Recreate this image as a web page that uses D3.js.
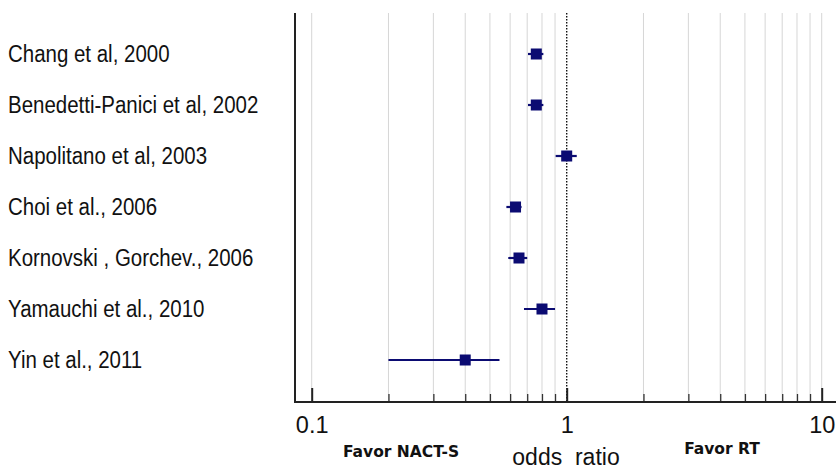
<!DOCTYPE html>
<html>
<head>
<meta charset="utf-8">
<script src="https://cdn.jsdelivr.net/npm/d3@7"></script>
<style>
  body { margin: 0; background: #fff; }
  svg { display: block; }
</style>
</head>
<body>
<div id="chart"></div>
<script>
// study names, top to bottom
var studies = ['Chang et al, 2000', 'Benedetti-Panici et al, 2002', 'Napolitano et al, 2003',
  'Choi et al., 2006', 'Kornovski , Gorchev., 2006', 'Yamauchi et al., 2010', 'Yin et al., 2011']
// odds ratio and 95% CI
var oddsRatio = [0.76, 0.76, 1.0, 0.63, 0.65, 0.80, 0.40]
var ciLow = [0.705, 0.705, 0.905, 0.58, 0.59, 0.68, 0.20]
var ciHigh = [0.81, 0.81, 1.095, 0.665, 0.70, 0.90, 0.545]

var majorTicks = [0.1, 1, 10]
var minorTicks = [0.2, 0.3, 0.4, 0.5, 0.6, 0.7, 0.8, 0.9, 2, 3, 4, 5, 6, 7, 8, 9]

var width = 836, height = 471
var axisY = 402, topY = 13, frameX = 295
var navy = '#0b0b72'

var svg = d3.select('#chart').append('svg')
  .attr('width', width)
  .attr('height', height)

var x = d3.scaleLog()
  .domain([0.1, 10])
  .range([311.7, 821.7])

var y = d3.scalePoint()
  .domain(studies)
  .range([54, 360])

// light grid lines
var grid = majorTicks.filter(function(d){ return d != 1 }).concat(minorTicks)
svg.append('g').selectAll('line')
  .data(grid)
  .enter().append('line')
    .attr('x1', function(d){ return x(d) })
    .attr('x2', function(d){ return x(d) })
    .attr('y1', topY)
    .attr('y2', axisY)
    .attr('stroke', '#d6d6d6')
    .attr('stroke-width', 1)

// dotted line of no effect
svg.append('line')
  .attr('x1', x(1)).attr('x2', x(1))
  .attr('y1', topY).attr('y2', axisY)
  .attr('stroke', '#111')
  .attr('stroke-width', 1.4)
  .attr('stroke-dasharray', '1.5,1.5')

// minor ticks
var minorAxis = d3.axisBottom(x)
  .tickValues(minorTicks)
  .tickSize(-8)
  .tickSizeOuter(0)
  .tickFormat('')
svg.append('g')
  .attr('transform', 'translate(0,' + axisY + ')')
  .call(minorAxis)
  .call(function(g){ g.select('.domain').remove() })
  .selectAll('line').attr('stroke', '#333').attr('stroke-width', 1.3)

// major ticks and labels
var majorAxis = d3.axisBottom(x)
  .tickValues(majorTicks)
  .tickSize(-14)
  .tickSizeOuter(0)
  .tickFormat(function(d){ return String(d) })
var gMajor = svg.append('g')
  .attr('transform', 'translate(0,' + axisY + ')')
  .call(majorAxis)
gMajor.select('.domain').remove()
gMajor.selectAll('line').attr('stroke', '#222').attr('stroke-width', 2)
gMajor.selectAll('text')
  .attr('y', 31)
  .attr('dy', null)
  .attr('fill', '#111')
  .style('font-family', 'Liberation Sans, Arial, sans-serif')
  .style('font-size', '23.5px')

// frame: left side and bottom axis line
svg.append('path')
  .attr('d', 'M' + frameX + ',' + topY + 'V' + axisY + 'H' + width)
  .attr('fill', 'none')
  .attr('stroke', '#222')
  .attr('stroke-width', 2)

// study labels
svg.append('g').selectAll('text')
  .data(studies)
  .enter().append('text')
    .attr('transform', function(d){ return 'translate(8,' + (y(d) + 8) + ') scale(0.89,1)' })
    .text(function(d){ return d })
    .attr('fill', '#111')
    .style('font-family', 'Liberation Sans, Arial, sans-serif')
    .style('font-size', '23px')

// confidence intervals
var rows = svg.append('g').selectAll('g')
  .data(studies)
  .enter().append('g')

rows.append('line')
  .attr('x1', function(d, i){ return x(ciLow[i]) })
  .attr('x2', function(d, i){ return x(ciHigh[i]) })
  .attr('y1', function(d){ return y(d) })
  .attr('y2', function(d){ return y(d) })
  .attr('stroke', navy)
  .attr('stroke-width', 2.2)

var sq = 11
rows.append('rect')
  .attr('x', function(d, i){ return x(oddsRatio[i]) - sq/2 })
  .attr('y', function(d){ return y(d) - sq/2 })
  .attr('width', sq)
  .attr('height', sq)
  .attr('fill', navy)

// bottom captions
svg.append('text')
  .attr('x', 401).attr('y', 457)
  .attr('text-anchor', 'middle')
  .text('Favor NACT-S')
  .attr('fill', '#111')
  .style('font-family', 'DejaVu Sans, sans-serif')
  .style('font-weight', 'bold')
  .style('font-size', '15.5px')

svg.append('text')
  .attr('x', 722).attr('y', 454)
  .attr('text-anchor', 'middle')
  .text('Favor RT')
  .attr('fill', '#111')
  .style('font-family', 'DejaVu Sans, sans-serif')
  .style('font-weight', 'bold')
  .style('font-size', '15.5px')

svg.append('text')
  .attr('x', 566).attr('y', 465)
  .attr('text-anchor', 'middle')
  .style('white-space', 'pre')
  .text('odds  ratio')
  .attr('fill', '#111')
  .style('font-family', 'Liberation Sans, Arial, sans-serif')
  .style('font-size', '23px')
</script>
</body>
</html>
